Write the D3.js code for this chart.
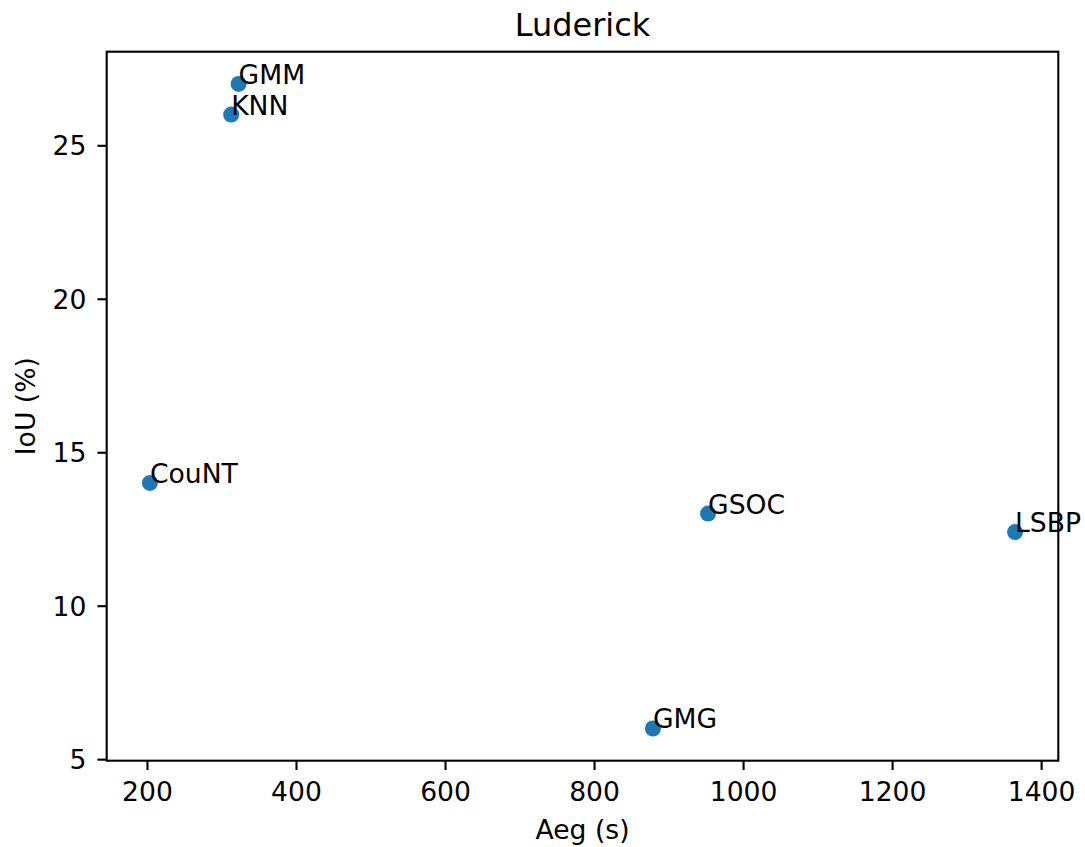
<!DOCTYPE html>
<html>
<head>
<meta charset="utf-8">
<script src="https://cdn.jsdelivr.net/npm/d3@7"></script>
<style>
  html, body { margin: 0; padding: 0; background: #fff; }
  svg { display: block; font-family: "DejaVu Sans", sans-serif; }
</style>
</head>
<body>
<svg id="chart" width="1085" height="847"></svg>
<script>
// ---- data ----
const methods = ["GMM", "KNN", "CouNT", "GSOC", "LSBP", "GMG"];
const aegSeconds = [323, 313, 204, 953, 1365, 879];
const iouPercent = [27, 26, 14, 13, 12.4, 6];
const xTicks = [200, 400, 600, 800, 1000, 1200, 1400];
const yTicks = [5, 10, 15, 20, 25];
const titleText = "Luderick";
const xLabel = "Aeg (s)";
const yLabel = "IoU (%)";

// ---- layout ----
const W = 1085, H = 847;
const plotLeft = 106.7, plotRight = 1058.3, plotTop = 51.7, plotBottom = 760.7;
const fs = 26.6;
const tickLen = 9.3;
const blue = "#1f77b4";

const svg = d3.select("#chart");
svg.append("rect").attr("width", W).attr("height", H).attr("fill", "#fff");

function padded(arr) {
  const [a, b] = d3.extent(arr);
  const m = (b - a) * 0.05;
  return [a - m, b + m];
}

const x = d3.scaleLinear().domain(padded(aegSeconds)).range([plotLeft, plotRight]);
const y = d3.scaleLinear().domain(padded(iouPercent)).range([plotBottom, plotTop]);

// axes
const xAxis = svg.append("g")
  .attr("transform", `translate(0,${plotBottom})`)
  .call(d3.axisBottom(x).tickValues(xTicks).tickFormat(d3.format("d"))
    .tickSize(tickLen).tickSizeOuter(0).tickPadding(11.8));
const yAxis = svg.append("g")
  .attr("transform", `translate(${plotLeft},0)`)
  .call(d3.axisLeft(y).tickValues(yTicks).tickFormat(d3.format("d"))
    .tickSize(tickLen).tickSizeOuter(0).tickPadding(11));

[xAxis, yAxis].forEach(g => {
  g.select(".domain").remove();
  g.selectAll(".tick line").attr("stroke", "#000").attr("stroke-width", 2.1);
  g.selectAll(".tick text").attr("fill", "#000")
    .style("font-size", fs + "px").style("font-family", "DejaVu Sans");
});
yAxis.selectAll(".tick text").attr("dy", "0.36em");

// frame
svg.append("rect")
  .attr("x", plotLeft).attr("y", plotTop)
  .attr("width", plotRight - plotLeft).attr("height", plotBottom - plotTop)
  .attr("fill", "none").attr("stroke", "#000").attr("stroke-width", 2.1);

// points
const data = methods.map((m, i) => ({ m, x: aegSeconds[i], y: iouPercent[i] }));
svg.append("g").selectAll("circle").data(data).join("circle")
  .attr("cx", d => x(d.x)).attr("cy", d => y(d.y))
  .attr("r", 8).attr("fill", blue);

// point labels
svg.append("g").selectAll("text").data(data).join("text")
  .attr("x", d => x(d.x)).attr("y", d => y(d.y))
  .attr("fill", "#000").style("font-size", fs + "px")
  .text(d => d.m);

// title
svg.append("text")
  .attr("x", (plotLeft + plotRight) / 2).attr("y", 35.7)
  .attr("text-anchor", "middle").attr("fill", "#000")
  .style("font-size", (fs * 1.2) + "px")
  .text(titleText);

// axis labels
svg.append("text")
  .attr("x", (plotLeft + plotRight) / 2).attr("y", 838.5)
  .attr("text-anchor", "middle").attr("fill", "#000")
  .style("font-size", fs + "px")
  .text(xLabel);
svg.append("text")
  .attr("transform", `translate(35.4,${(plotTop + plotBottom) / 2}) rotate(-90)`)
  .attr("text-anchor", "middle").attr("fill", "#000")
  .style("font-size", fs + "px")
  .text(yLabel);
</script>
</body>
</html>
